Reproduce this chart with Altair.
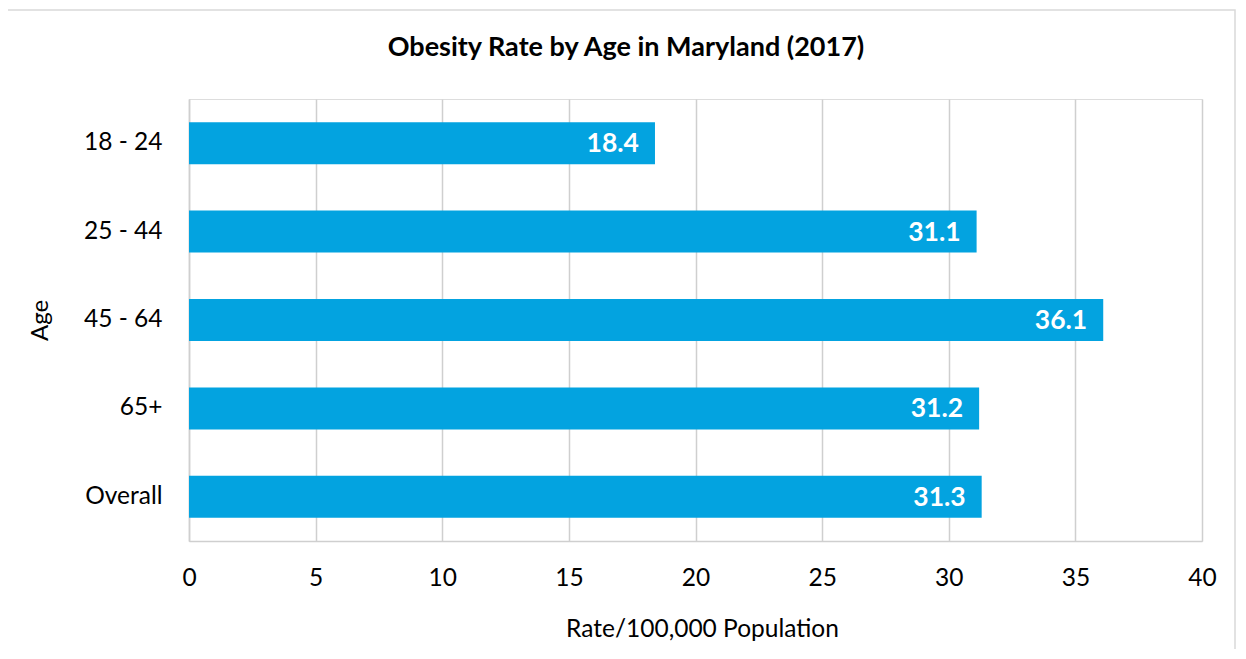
import altair as alt
import pandas as pd

ages = ["18 - 24", "25 - 44", "45 - 64", "65+", "Overall"]
rates = [18.4, 31.1, 36.1, 31.2, 31.3]
chart_title = ["Obesity Rate by Age in Maryland (2017)"]

df = pd.DataFrame({"Age": ages, "Rate": rates})

FONT = "Lato"
BLUE = "#03A3E0"
GRID = "#CFCFCF"

y_enc = alt.Y(
    "Age:N",
    sort=ages,
    scale=alt.Scale(paddingInner=0.525, paddingOuter=0.2625),
    axis=alt.Axis(
        title="Age",
        titleFont=FONT,
        titleFontSize=24,
        titleFontWeight="normal",
        titleColor="#000000",
        titleX=-149,
        titleY=221,
        titleAngle=-90,
        titleAlign="center",
        titleBaseline="middle",
        labelFont=FONT,
        labelFontSize=24.5,
        labelColor="#000000",
        labelPadding=27,
        ticks=False,
        domain=True,
        domainColor=GRID,
        domainWidth=1.5,
        grid=False,
    ),
)

x_enc = alt.X(
    "Rate:Q",
    scale=alt.Scale(domain=[0, 40], nice=False),
    axis=alt.Axis(
        title="Rate/100,000 Population",
        titleFont=FONT,
        titleFontSize=24.5,
        titleFontWeight="normal",
        titleColor="#000000",
        titleX=513,
        titleY=88,
        titleAlign="center",
        titleBaseline="middle",
        values=[0, 5, 10, 15, 20, 25, 30, 35, 40],
        labelFont=FONT,
        labelFontSize=24.5,
        labelColor="#000000",
        labelPadding=25,
        labelFlush=False,
        ticks=False,
        domain=True,
        domainColor=GRID,
        domainWidth=1.5,
        grid=True,
        gridColor=GRID,
        gridWidth=1.5,
    ),
)

bars = alt.Chart(df).mark_bar(color=BLUE).encode(x=x_enc, y=y_enc)

labels = alt.Chart(df).mark_text(
    align="right",
    baseline="middle",
    dx=-16,
    dy=1,
    color="white",
    font=FONT,
    fontSize=26.5,
    fontWeight="bold",
).encode(
    x=alt.X("Rate:Q"),
    y=alt.Y("Age:N", sort=ages),
    text=alt.Text("Rate:Q", format=".1f"),
)

frame = alt.Chart(pd.DataFrame({"a": [0]})).mark_rect(
    fill=None, stroke="#D9D9D9", strokeWidth=1.5
).encode(
    x=alt.value(-182),
    x2=alt.value(1046),
    y=alt.value(-89),
    y2=alt.value(570),
)

title_text = alt.Chart(pd.DataFrame({"t": chart_title})).mark_text(
    align="center",
    baseline="middle",
    font=FONT,
    fontSize=27,
    fontWeight="bold",
    color="#000000",
).encode(
    text="t:N",
    x=alt.value(437),
    y=alt.value(-51),
)

chart = (
    alt.layer(frame, bars, labels, title_text)
    .properties(
        width=1013,
        height=442,
        autosize=alt.AutoSizeParams(type="none"),
        padding={"left": 181, "top": 91, "right": 35, "bottom": 108},
    )
    .configure_view(stroke=None)
    .configure(background="white")
)

chart.save("out.html", embed_options={"renderer": "svg", "actions": False})
